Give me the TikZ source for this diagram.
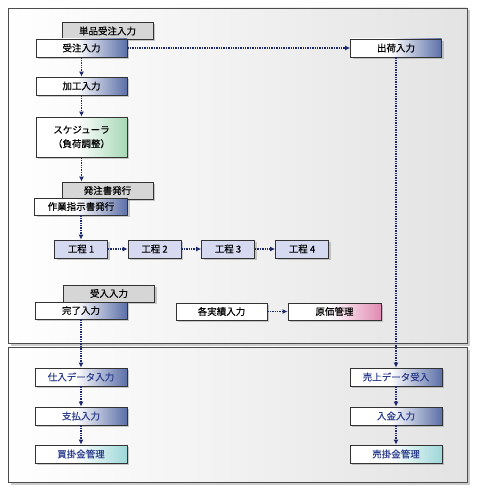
\documentclass[tikz,border=0pt]{standalone}
\usepackage{fontspec}
\newfontfamily\jp[FakeBold=0.35]{Noto Sans CJK JP}
\usepackage{xcolor}
\usepackage{tikz}
\usetikzlibrary{arrows.meta,shadows}

\definecolor{boxblue}{HTML}{5B6FA8}
\definecolor{boxgreen}{HTML}{A6D8B6}
\definecolor{boxpink}{HTML}{E189B3}
\definecolor{boxteal}{HTML}{9ED7D8}
\definecolor{steplav}{HTML}{D5DAF0}
\definecolor{backgray}{HTML}{D6D6D6}
\definecolor{flowblue}{HTML}{1E2A6E}
\definecolor{textblue}{HTML}{2B3C8C}

\pgfdeclarehorizontalshading{blueshade}{100bp}{color(0bp)=(white); color(25bp)=(white); color(47bp)=(white); color(75bp)=(boxblue); color(100bp)=(boxblue)}
\pgfdeclarehorizontalshading{greenshade}{100bp}{color(0bp)=(white); color(25bp)=(white); color(47bp)=(white); color(75bp)=(boxgreen); color(100bp)=(boxgreen)}
\pgfdeclarehorizontalshading{pinkshade}{100bp}{color(0bp)=(white); color(25bp)=(white); color(47bp)=(white); color(75bp)=(boxpink); color(100bp)=(boxpink)}
\pgfdeclarehorizontalshading{tealshade}{100bp}{color(0bp)=(white); color(25bp)=(white); color(47bp)=(white); color(75bp)=(boxteal); color(100bp)=(boxteal)}

\begin{document}
\begin{tikzpicture}[x=1pt, y=-1pt, >=Latex,
    panel/.style={draw=black!70, line width=0.9pt, left color=white, right color=black!11,
        drop shadow={shadow xshift=2.5pt, shadow yshift=-2.5pt, opacity=.4}},
    base/.style={draw=black!80, line width=0.8pt, minimum width=91pt, minimum height=18pt,
        inner sep=0pt, font=\jp\fontsize{9.5}{11}\selectfont,
        drop shadow={shadow xshift=2pt, shadow yshift=-2pt, opacity=.4}},
    inbox/.style={base, shading=blueshade},
    schedbox/.style={base, shading=greenshade, minimum height=40pt, align=center},
    backbox/.style={base, fill=backgray, minimum height=17pt},
    stepbox/.style={base, fill=steplav, minimum width=53pt},
    costbox/.style={base, shading=pinkshade, minimum width=93pt, minimum height=17pt},
    ledgerbox/.style={base, shading=tealshade, text=textblue},
    flow/.style={densely dotted, line width=1.4pt, draw=flowblue,
        -{Latex[length=5pt, width=5pt, fill=flowblue]}}]
    \useasboundingbox (0,0) rectangle (480,495);

    % two panels
    \draw[panel] (8,8) rectangle (467,343);
    \draw[panel] (8,347) rectangle (467,482);

    % boxes behind
    \node[backbox] (tanpin) at (107.5,31) {単品受注入力};
    \node[backbox] (hacchu) at (107.5,190.5) {発注書発行};
    \node[backbox] (ukeire) at (109,293.5) {受入入力};

    % order side
    \node[inbox] (juchu) at (81.5,48) {受注入力};
    \node[inbox] (kako) at (81.5,86) {加工入力};
    \node[schedbox] (sched) at (81.5,137) {スケジューラ\\[3pt]（負荷調整）};
    \node[inbox, minimum width=93pt, minimum height=17pt] (sagyo) at (81,206.5) {作業指示書発行};
    \node[stepbox] (kotei1) at (81,249) {工程 1};
    \node[stepbox] (kotei2) at (154.5,249) {工程 2};
    \node[stepbox] (kotei3) at (228,249) {工程 3};
    \node[stepbox] (kotei4) at (302,249) {工程 4};
    \node[inbox, minimum width=92pt, minimum height=17pt] (kanryo) at (81,310.5) {完了入力};
    \node[base, fill=white, minimum height=17pt] (jisseki) at (221.5,311.5) {各実績入力};
    \node[costbox] (genka) at (334.5,311.5) {原価管理};
    \node[inbox] (shukka) at (396,48) {出荷入力};

    % accounts
    \node[inbox, text=textblue, minimum width=92pt] (shiire) at (81,377) {仕入データ入力};
    \node[inbox, text=textblue, minimum width=92pt] (shiharai) at (81,416) {支払入力};
    \node[ledgerbox, minimum width=92pt] (kaikake) at (81,454) {買掛金管理};
    \node[inbox, text=textblue, minimum width=92pt] (uriage) at (396,377) {売上データ受入};
    \node[inbox, text=textblue, minimum width=92pt] (nyukin) at (396,416) {入金入力};
    \node[ledgerbox, minimum width=92pt] (urikake) at (396,454) {売掛金管理};

    % flows
    \draw[flow] (juchu) -- (shukka);
    \draw[flow] (juchu) -- (kako);
    \draw[flow] (kako) -- (sched);
    \draw[flow] (sched.south) -- (sched.south |- hacchu.north);
    \draw[flow] (sagyo) -- (kotei1);
    \draw[flow] (kotei1) -- (kotei2);
    \draw[flow] (kotei2) -- (kotei3);
    \draw[flow] (kotei3) -- (kotei4);
    \draw[flow] (jisseki) -- (genka);
    \draw[flow] (kanryo) -- (shiire);
    \draw[flow] (shiire) -- (shiharai);
    \draw[flow] (shiharai) -- (kaikake);
    \draw[flow] (shukka) -- (uriage);
    \draw[flow] (uriage) -- (nyukin);
    \draw[flow] (nyukin) -- (urikake);
\end{tikzpicture}
\end{document}
